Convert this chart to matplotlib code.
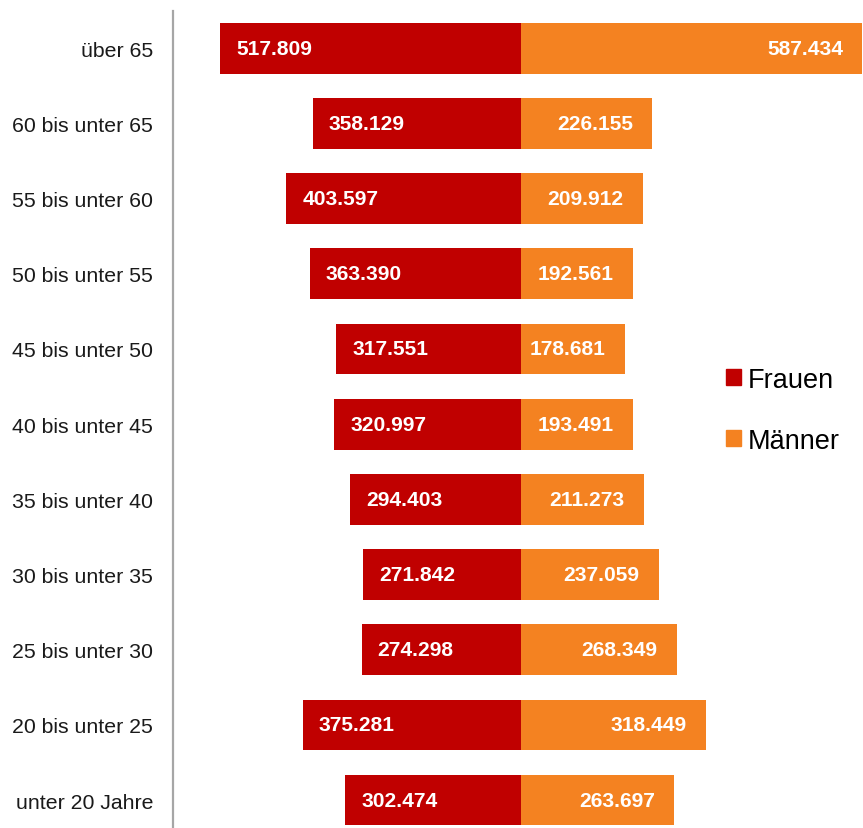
import matplotlib
matplotlib.use("Agg")
import matplotlib.pyplot as plt
import matplotlib.patches as mpatches

RED = '#C00000'
ORANGE = '#F48221'

plt.rcParams['font.family'] = ['Liberation Sans', 'DejaVu Sans']

# data, bottom to top
groups = ["unter 20 Jahre", "20 bis unter 25", "25 bis unter 30", "30 bis unter 35",
          "35 bis unter 40", "40 bis unter 45", "45 bis unter 50", "50 bis unter 55",
          "55 bis unter 60", "60 bis unter 65", "über 65"]
frauen = [302474, 375281, 274298, 271842, 294403, 320997, 317551, 363390,
          403597, 358129, 517809]
maenner = [263697, 318449, 268349, 237059, 211273, 193491, 178681, 192561,
           209912, 226155, 587434]


def fmt(v):
    return f"{v:,}".replace(",", ".")


fig = plt.figure(figsize=(8.63, 8.29), dpi=100)
ax = fig.add_axes([0.1999, 0.0, 0.8001, 0.9855])

y = list(range(len(groups)))
ax.barh(y, [-v for v in frauen], height=0.674, color=RED, linewidth=0)
ax.barh(y, maenner, height=0.674, color=ORANGE, linewidth=0)

for yi, f, m in zip(y, frauen, maenner):
    ax.annotate(fmt(f), xy=(-f, yi), xytext=(11.5, 0), textcoords='offset points',
                ha='left', va='center', color='white', fontsize=15.1,
                fontweight='bold')
    ax.annotate(fmt(m), xy=(m, yi), xytext=(-14, 0), textcoords='offset points',
                ha='right', va='center', color='white', fontsize=15.1,
                fontweight='bold')

ax.set_xlim(-599500, 588300)
ax.set_ylim(-0.372, 10.496)
ax.set_yticks(y)
ax.set_yticklabels(groups, fontsize=15.3, color='#1A1A1A')
ax.tick_params(axis='y', length=0, pad=14)
ax.set_xticks([])
for s in ['top', 'right', 'bottom']:
    ax.spines[s].set_visible(False)
ax.spines['left'].set_color('#A6A6A6')
ax.spines['left'].set_linewidth(1.6)

handles = [mpatches.Patch(color=RED, label='Frauen'),
           mpatches.Patch(color=ORANGE, label='Männer')]
fig.legend(handles=handles, loc='center left', bbox_to_anchor=(0.841, 0.504),
           frameon=False, fontsize=19.5, handlelength=0.55, handleheight=0.55,
           handletextpad=0.27, labelspacing=1.3, borderaxespad=0, borderpad=0)

fig.savefig("out.png", dpi=100)
